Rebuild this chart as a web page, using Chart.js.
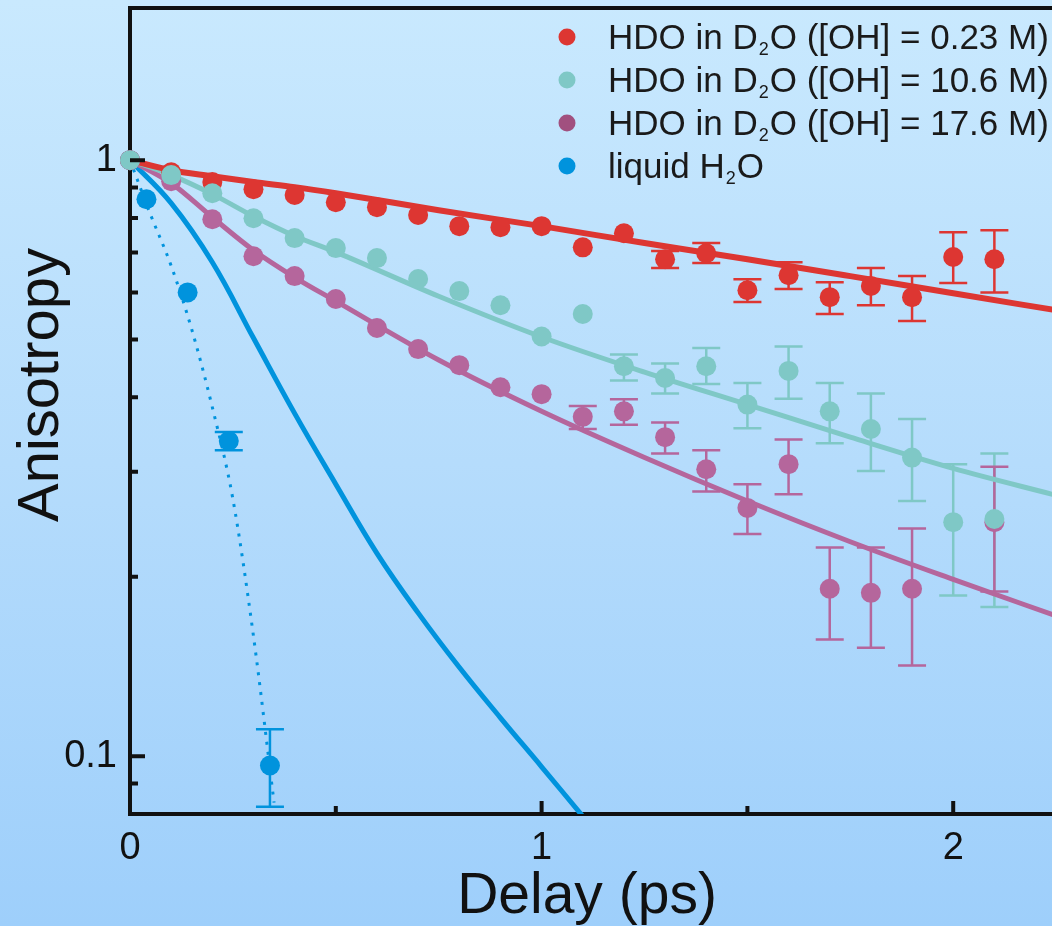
<!DOCTYPE html>
<html>
<head>
<meta charset="utf-8">
<script src="https://cdn.jsdelivr.net/npm/chart.js@4.4.0/dist/chart.umd.min.js"></script>
<style>
  html, body { margin: 0; padding: 0; }
  body { width: 1052px; height: 926px; overflow: hidden;
         background: linear-gradient(to bottom, #c9e9fe 0%, #b5dcfc 50%, #9ecffb 100%); }
</style>
</head>
<body>
<canvas id="grafico" width="1052" height="926"></canvas>
<script>
// delays (ps) of the measured points
var delays = [0, 0.1, 0.2, 0.3, 0.4, 0.5, 0.6, 0.7, 0.8, 0.9, 1.0, 1.1, 1.2, 1.3, 1.4, 1.5, 1.6, 1.7, 1.8, 1.9, 2.0, 2.1];

var oh023 = [1.0, 0.954, 0.919, 0.894, 0.874, 0.850, 0.834, 0.809, 0.775, 0.772, 0.775, 0.714, 0.754, 0.682, 0.698, 0.605, 0.641, 0.589, 0.615, 0.589, 0.688, 0.682];
var oh023Lo = [null, null, null, null, null, null, null, null, null, null, null, null, null, 0.659, 0.672, 0.578, 0.608, 0.552, 0.571, 0.537, 0.622, 0.600];
var oh023Hi = [null, null, null, null, null, null, null, null, null, null, null, null, null, 0.704, 0.726, 0.631, 0.674, 0.624, 0.659, 0.639, 0.757, 0.763];

var oh106 = [1.0, 0.944, 0.880, 0.799, 0.740, 0.712, 0.685, 0.632, 0.603, 0.571, 0.506, 0.552, 0.451, 0.431, 0.451, 0.389, 0.443, 0.379, 0.354, 0.317, 0.247, 0.250];
var oh106Lo = [null, null, null, null, null, null, null, null, null, null, null, null, 0.427, 0.406, 0.421, 0.355, 0.398, 0.335, 0.301, 0.268, 0.186, 0.178];
var oh106Hi = [null, null, null, null, null, null, null, null, null, null, null, null, 0.472, 0.456, 0.484, 0.423, 0.487, 0.423, 0.406, 0.368, 0.309, 0.322];

var oh176 = [1.0, 0.922, 0.796, 0.690, 0.639, 0.585, 0.523, 0.482, 0.453, 0.416, 0.405, 0.371, 0.379, 0.343, 0.303, 0.261, 0.309, 0.191, 0.188, 0.191, null, 0.247];
var oh176Lo = [null, null, null, null, null, null, null, null, null, null, null, 0.354, 0.360, 0.322, 0.278, 0.236, 0.275, 0.157, 0.152, 0.142, null, 0.189];
var oh176Hi = [null, null, null, null, null, null, null, null, null, null, null, 0.387, 0.397, 0.363, 0.326, 0.286, 0.340, 0.224, 0.224, 0.241, null, 0.306];

// liquid water
var waterDelays = [0, 0.04, 0.14, 0.24, 0.34];
var water = [1.0, 0.86, 0.60, 0.338, 0.0965];
var waterLo = [null, null, null, 0.326, 0.0823];
var waterHi = [null, null, null, 0.350, 0.111];

// fitted curves
var fitDelays = [0, 0.1, 0.2, 0.3, 0.4, 0.5, 0.75, 1.0, 1.25, 1.5, 1.75, 2.0, 2.25];
var fit023 = [1.0, 0.962, 0.940, 0.919, 0.901, 0.880, 0.824, 0.775, 0.726, 0.682, 0.639, 0.598, 0.560];
var fit106 = [1.0, 0.944, 0.877, 0.805, 0.746, 0.701, 0.591, 0.505, 0.441, 0.389, 0.343, 0.304, 0.274];
var fit176 = [1.0, 0.915, 0.802, 0.706, 0.636, 0.580, 0.462, 0.379, 0.317, 0.268, 0.229, 0.198, 0.172];

var waterFitDelays = [0, 0.1, 0.2, 0.3, 0.4, 0.5, 0.6, 0.7, 0.8, 0.9, 1.0, 1.1];
var waterFit = [1.0, 0.847, 0.674, 0.503, 0.376, 0.286, 0.219, 0.174, 0.141, 0.116, 0.096, 0.0793];

var waterDotDelays = [0, 0.05, 0.1, 0.15, 0.2, 0.25, 0.3, 0.35];
var waterDot = [1.0, 0.81, 0.665, 0.52, 0.385, 0.27, 0.159, 0.0836];

var legendLabels = ['HDO in D₂O ([OH] = 0.23 M)', 'HDO in D₂O ([OH] = 10.6 M)', 'HDO in D₂O ([OH] = 17.6 M)', 'liquid H₂O'];
var xTickLabels = [0, 1, 2];
var xMinorTicks = [0.5, 1.5];
var yTickLabels = [0.1, 1];
var yMinorTicks = [0.09, 0.2, 0.3, 0.4, 0.5, 0.6, 0.7, 0.8, 0.9];

var vermelho = '#dd3632';
var turquesa = '#7fc8c6';
var roxo = '#b5669c';
var azul = '#0093dd';
var fonte = '"Liberation Sans", Arial, sans-serif';

function pares(xs, ys) {
	var out = [];
	for (var i = 0; i < xs.length; i++) {
		if (ys[i] !== null) out.push({x: xs[i], y: ys[i]});
	}
	return out;
}

function pontos(label, xs, ys, cor, ordem) {
	return {
		label: label, data: pares(xs, ys), showLine: false,
		pointRadius: 10, pointHoverRadius: 10, pointBorderWidth: 0,
		backgroundColor: cor, borderColor: cor, order: ordem, clip: 12
	};
}

function curva(xs, ys, cor, largura, traco, suave) {
	return {
		label: 'fit', data: pares(xs, ys), showLine: true, pointRadius: 0,
		borderColor: cor, borderWidth: largura, borderDash: traco || [],
		cubicInterpolationMode: suave ? 'default' : 'monotone', tension: 0.4, order: 10
	};
}

var barras = [
	{xs: delays, lo: oh023Lo, hi: oh023Hi, cor: vermelho},
	{xs: delays, lo: oh106Lo, hi: oh106Hi, cor: turquesa},
	{xs: delays, lo: oh176Lo, hi: oh176Hi, cor: roxo},
	{xs: waterDelays, lo: waterLo, hi: waterHi, cor: azul}
];

var extras = {
	id: 'extras',
	beforeDatasetsDraw: function(chart) {
		var ctx = chart.ctx, sx = chart.scales.x, sy = chart.scales.y;
		ctx.save();
		barras.forEach(function(b) {
			ctx.strokeStyle = b.cor;
			ctx.lineWidth = 2.5;
			for (var i = 0; i < b.xs.length; i++) {
				if (b.lo[i] === null) continue;
				var px = sx.getPixelForValue(b.xs[i]);
				var y1 = sy.getPixelForValue(b.lo[i]);
				var y2 = sy.getPixelForValue(b.hi[i]);
				ctx.beginPath();
				ctx.moveTo(px, y1); ctx.lineTo(px, y2);
				ctx.moveTo(px - 14, y1); ctx.lineTo(px + 14, y1);
				ctx.moveTo(px - 14, y2); ctx.lineTo(px + 14, y2);
				ctx.stroke();
			}
		});
		ctx.restore();
	},
	afterDraw: function(chart) {
		var ctx = chart.ctx, sx = chart.scales.x, sy = chart.scales.y, area = chart.chartArea;
		ctx.save();
		ctx.strokeStyle = '#111';
		// top frame line
		ctx.lineWidth = 4;
		ctx.beginPath();
		ctx.moveTo(area.left - 2, area.top); ctx.lineTo(area.right, area.top);
		ctx.stroke();
		// inward tick marks
		ctx.beginPath();
		yTickLabels.forEach(function(v) {
			var py = sy.getPixelForValue(v);
			ctx.moveTo(area.left, py); ctx.lineTo(area.left + 15, py);
		});
		yMinorTicks.forEach(function(v) {
			var py = sy.getPixelForValue(v);
			ctx.moveTo(area.left, py); ctx.lineTo(area.left + 8, py);
		});
		xTickLabels.forEach(function(v) {
			if (v === 0) return;
			var px = sx.getPixelForValue(v);
			ctx.moveTo(px, area.bottom); ctx.lineTo(px, area.bottom - 13);
		});
		xMinorTicks.forEach(function(v) {
			var px = sx.getPixelForValue(v);
			ctx.moveTo(px, area.bottom); ctx.lineTo(px, area.bottom - 8);
		});
		ctx.stroke();
		// axis titles
		ctx.fillStyle = '#111';
		ctx.font = '57px ' + fonte;
		ctx.textAlign = 'center';
		ctx.textBaseline = 'alphabetic';
		ctx.fillText('Delay (ps)', 587, 913);
		ctx.save();
		ctx.translate(58, 385);
		ctx.rotate(-Math.PI / 2);
		ctx.font = '58px ' + fonte;
		ctx.fillText('Anisotropy', 0, 0);
		ctx.restore();
		// legend
		var cores = [vermelho, turquesa, '#a1507f', azul];
		ctx.textAlign = 'left';
		legendLabels.forEach(function(txt, i) {
			var cy = 37 + i * 43;
			ctx.fillStyle = cores[i];
			ctx.beginPath();
			ctx.arc(567, cy, 8.5, 0, Math.PI * 2);
			ctx.fill();
			ctx.fillStyle = '#1a1a1a';
			var partes = txt.split('₂');
			var x = 608, base = cy + 12;
			partes.forEach(function(p, j) {
				ctx.font = '35px ' + fonte;
				ctx.fillText(p, x, base);
				x += ctx.measureText(p).width;
				if (j < partes.length - 1) {
					ctx.font = '18px ' + fonte;
					ctx.fillText('2', x + 1, base + 6);
					x += ctx.measureText('2').width + 2;
				}
			});
		});
		ctx.restore();
	}
};

var grafico = document.getElementById('grafico').getContext('2d');
var dados = {
	type: 'scatter',
	data: {
		datasets: [
			curva(fitDelays, fit023, vermelho, 6),
			curva(fitDelays, fit106, turquesa, 5),
			curva(fitDelays, fit176, roxo, 5),
			curva(waterFitDelays, waterFit, azul, 5, null, true),
			curva(waterDotDelays, waterDot, azul, 3, [3, 7]),
			pontos(legendLabels[0], delays, oh023, vermelho, 3),
			pontos(legendLabels[1], delays, oh106, turquesa, 1),
			pontos(legendLabels[2], delays, oh176, roxo, 2),
			pontos(legendLabels[3], waterDelays, water, azul, 4)
		]
	},
	options: {
		responsive: false,
		animation: false,
		layout: { autoPadding: false, padding: { top: 8, left: 0, right: 0, bottom: 0 } },
		plugins: { legend: { display: false }, tooltip: { enabled: false } },
		scales: {
			x: {
				type: 'linear', min: 0, max: 2.24,
				border: { display: true, width: 4, color: '#111' },
				grid: { display: false, drawTicks: false, tickLength: 0 },
				ticks: { color: '#111', padding: 12, font: { family: fonte, size: 38 },
					callback: function(v) { return String(v); } },
				afterBuildTicks: function(s) { s.ticks = xTickLabels.map(function(v) { return {value: v}; }); },
				afterFit: function(s) { s.height = 112; s.paddingLeft = 0; s.paddingRight = 0; }
			},
			y: {
				type: 'logarithmic', min: 0.08, max: 1.8,
				border: { display: true, width: 4, color: '#111' },
				grid: { display: false, drawTicks: false, tickLength: 0 },
				ticks: { color: '#111', padding: 13, font: { family: fonte, size: 38 },
					callback: function(v) { return String(v); } },
				afterBuildTicks: function(s) { s.ticks = yTickLabels.map(function(v) { return {value: v}; }); },
				afterFit: function(s) { s.width = 130; s.paddingTop = 0; s.paddingBottom = 0; }
			}
		}
	},
	plugins: [extras]
};

new Chart(grafico, dados);
</script>
</body>
</html>
